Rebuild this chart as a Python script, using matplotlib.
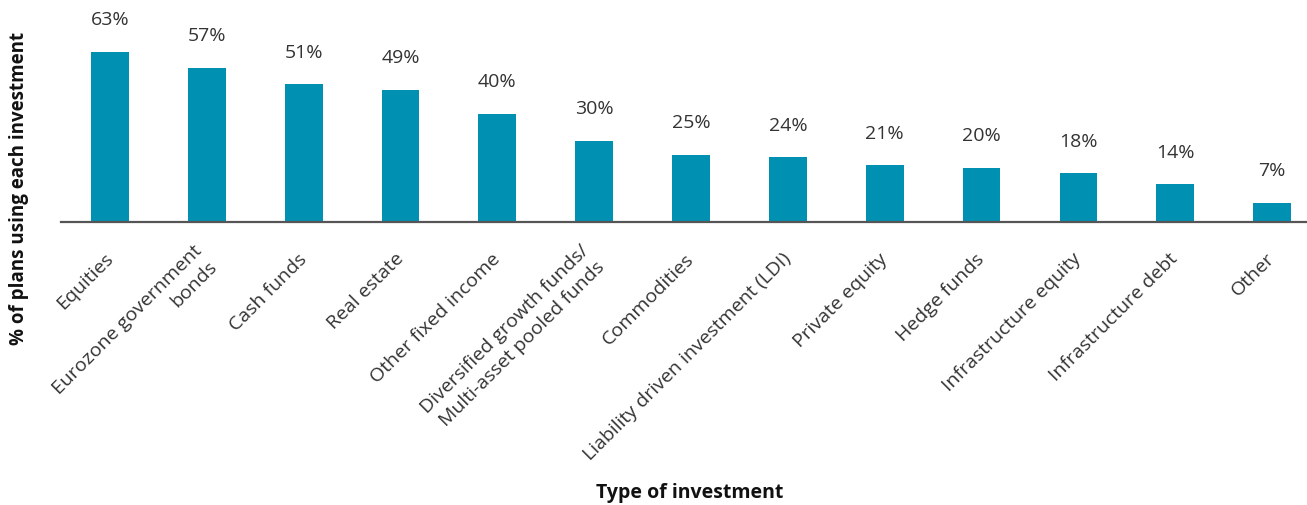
import matplotlib.pyplot as plt

categories = [
    "Equities",
    "Eurozone government\nbonds",
    "Cash funds",
    "Real estate",
    "Other fixed income",
    "Diversified growth funds/\nMulti-asset pooled funds",
    "Commodities",
    "Liability driven investment (LDI)",
    "Private equity",
    "Hedge funds",
    "Infrastructure equity",
    "Infrastructure debt",
    "Other",
]
share_pct = [63, 57, 51, 49, 40, 30, 25, 24, 21, 20, 18, 14, 7]

bar_color = "#0090b2"
text_color = "#333333"

plt.rcParams["font.family"] = ["Open Sans", "DejaVu Sans"]

W, H = 1307, 506
fig = plt.figure(figsize=(W / 100, H / 100), dpi=100)
# axes box in pixel units: left 61, right 1307, baseline at y=223 from top
ax = fig.add_axes([61 / W, (H - 223) / H, (1307 - 61) / W, 223 / H])

x = list(range(len(categories)))
ax.bar(x, share_pct, width=0.39, color=bar_color, zorder=2)

for xi, v in zip(x, share_pct):
    ax.annotate(f"{v}%", (xi, v), xytext=(0, 23.5), textcoords="offset points",
                ha="center", va="center", fontsize=14, color=text_color)

ax.set_xlim(-0.506, 12.36)
ax.set_ylim(0, 82.6)

for side in ["top", "right", "left"]:
    ax.spines[side].set_visible(False)
ax.spines["bottom"].set_color("#555555")
ax.spines["bottom"].set_linewidth(1.6)
ax.set_yticks([])

ax.set_xticks(x)
ax.set_xticklabels(categories, rotation=45, ha="right", va="center",
                   rotation_mode="anchor", fontsize=14, color=text_color,
                   linespacing=1.3)
ax.tick_params(axis="x", length=0, pad=24)

fig.text(19 / W, 1 - 188 / H, "% of plans using each investment", rotation=90,
         ha="center", va="center", fontsize=13.5, fontweight="bold", color="#111111")
fig.text(690 / W, 1 - 493 / H, "Type of investment", ha="center", va="center",
         fontsize=14, fontweight="bold", color="#111111")

fig.savefig("out.png", dpi=100)
